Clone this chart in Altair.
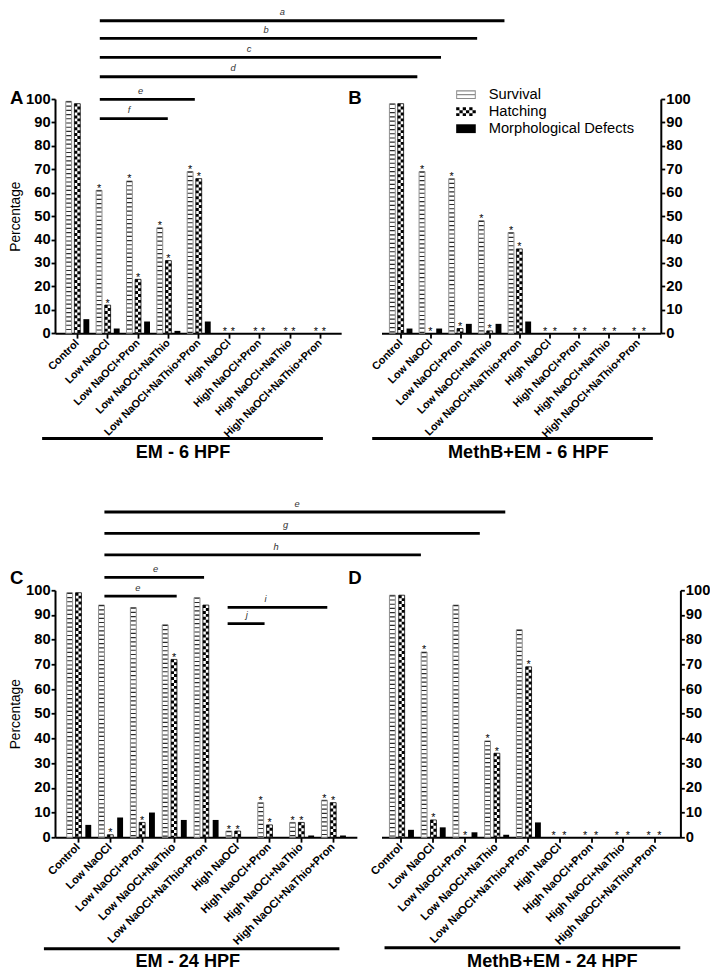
import json
import altair as alt
import pandas as pd

# ---------------- data ----------------
categories = ["Control", "Low NaOCl", "Low NaOCl+Pron", "Low NaOCl+NaThio",
              "Low NaOCl+NaThio+Pron", "High NaOCl", "High NaOCl+Pron",
              "High NaOCl+NaThio", "High NaOCl+NaThio+Pron"]
series_names = ["Survival", "Hatching", "Morphological Defects"]

em6_survival = [99, 61, 65, 45, 69, 0, 0, 0, 0]
em6_hatching = [98, 12, 23, 31, 66, 0, 0, 0, 0]
em6_defects = [6, 2, 5, 1, 5, 0, 0, 0, 0]
em6_star_survival = [0, 1, 1, 1, 1, 1, 1, 1, 1]
em6_star_hatching = [0, 1, 1, 1, 1, 1, 1, 1, 1]

mb6_survival = [98, 69, 66, 48, 43, 0, 0, 0, 0]
mb6_hatching = [98, 0, 2, 1, 36, 0, 0, 0, 0]
mb6_defects = [2, 2, 4, 4, 5, 0, 0, 0, 0]
mb6_star_survival = [0, 1, 1, 1, 1, 1, 1, 1, 1]
mb6_star_hatching = [0, 1, 1, 1, 1, 1, 1, 1, 1]

em24_survival = [99, 94, 93, 86, 97, 2.5, 14, 6, 15]
em24_hatching = [99, 1, 6, 72, 94, 2.5, 5, 6, 14]
em24_defects = [5, 8, 10, 7, 7, 0, 0, 0.7, 0.7]
em24_star_survival = [0, 0, 0, 0, 0, 1, 1, 1, 1]
em24_star_hatching = [0, 1, 1, 1, 0, 1, 1, 1, 1]

mb24_survival = [98, 75, 94, 39, 84, 0, 0, 0, 0]
mb24_hatching = [98, 7, 0, 34, 69, 0, 0, 0, 0]
mb24_defects = [3, 4, 2, 1, 6, 0, 0, 0, 0]
mb24_star_survival = [0, 1, 0, 1, 0, 1, 1, 1, 1]
mb24_star_hatching = [0, 1, 1, 1, 1, 1, 1, 1, 1]

# significance brackets (group units of the left panel, percent level)
sig6_labels = ["a", "b", "c", "d", "e", "f"]
sig6_from = [0.75, 0.75, 0.75, 0.75, 0.75, 0.75]
sig6_to = [14.08, 13.18, 11.99, 11.21, 3.88, 2.99]
sig6_level = [133.4, 125.9, 117.8, 109.5, 99.8, 91.6]
sig6_label_at = [6.76, 6.23, 5.67, 5.14, 2.09, 1.71]

sig24_labels = ["e", "g", "h", "e", "e", "i", "j"]
sig24_from = [0.83, 0.83, 0.83, 0.83, 0.83, 4.70, 4.70]
sig24_to = [13.42, 12.62, 10.77, 3.96, 3.10, 7.83, 5.86]
sig24_level = [131.7, 123.0, 114.3, 105.2, 97.6, 93.1, 86.5]
sig24_label_at = [6.88, 6.52, 6.22, 2.44, 1.88, 5.89, 5.30]

# ---------------- layout / style ----------------
S = 0.98
FONT = "Liberation Sans"

PANELS = {
    "A": dict(width=292, height=239, dom=[-0.561, 8.536], orient="left",
              offs=[-8.5, 0.3, 9.5], empty_offs=[-4, 4], title="EM - 6 HPF",
              under=[-1.15, 8.10, -45.0], tpos=[3.49, -51.3], lpos=[-39, -0.6], xlab=11),
    "B": dict(width=285, height=239, dom=[-0.478, 8.599], orient="right",
              offs=[-8.5, 0.0, 9.0], empty_offs=[-4, 6], title="MethB+EM - 6 HPF",
              under=[-0.96, 8.50, -45.0], tpos=[4.30, -51.0], lpos=[-27, -0.6], xlab=11),
    "C": dict(width=308, height=252, dom=[-0.565, 8.601], orient="left",
              offs=[-8.5, 0.5, 10.5], empty_offs=[-8.5, 0.5], title="EM - 24 HPF",
              under=[-1.07, 8.21, -45.2], tpos=[3.45, -50.4], lpos=[-39, -13], xlab=11.4),
    "D": dict(width=305, height=252, dom=[-0.448, 8.657], orient="right",
              offs=[-8.5, 1.0, 10.5], empty_offs=[-6, 5], title="MethB+EM - 24 HPF",
              under=[-0.51, 8.81, -44.8], tpos=[4.78, -50.4], lpos=[-27, -13], xlab=11.4),
}

label_expr = json.dumps(categories) + "[datum.value]"


def bars_df(surv, hatch, defects, st_s, st_h):
    rows = []
    for i, cat in enumerate(categories):
        empty = int(surv[i] == 0 and hatch[i] == 0 and defects[i] == 0)
        rows.append(dict(gi=i, category=cat, series="Survival", value=surv[i], star=st_s[i], empty=empty))
        rows.append(dict(gi=i, category=cat, series="Hatching", value=hatch[i], star=st_h[i], empty=empty))
        rows.append(dict(gi=i, category=cat, series="Morphological Defects", value=defects[i], star=0, empty=empty))
    return pd.DataFrame(rows)


def rect(x0, y0, x1, y1):
    return f"M{x0:.3f},{y0:.3f}L{x1:.3f},{y0:.3f}L{x1:.3f},{y1:.3f}L{x0:.3f},{y1:.3f}Z"


surv_path = (rect(-1, -0.45, 1, -0.33) + rect(-1, 0.33, 1, 0.45) + rect(-1, -0.45, -0.9, 0.45)
             + rect(0.9, -0.45, 1, 0.45) + rect(-1, -0.06, 1, 0.06))
hatch_path = "".join(
    rect(-1 + c / 3, -0.45 + r * 0.3, -1 + (c + 1) / 3, -0.45 + (r + 1) * 0.3)
    for r in range(3) for c in range(6) if (r + c) % 2 == 0)
morph_path = rect(-1, -0.45, 1, 0.45)


def make_panel(key, df, sig=None, legend=False):
    cfg = PANELS[key]
    W, H = cfg["width"] * S, cfg["height"] * S
    left = cfg["orient"] == "left"
    xs = alt.Scale(domain=cfg["dom"], nice=False, zero=False)
    ys = alt.Scale(domain=[0, 100], nice=False, zero=False)
    xaxis = alt.Axis(values=list(range(len(categories))), labelExpr=label_expr, labelAngle=-45,
                     labelAlign="right", labelBaseline="middle", labelFont=FONT,
                     labelFontSize=cfg["xlab"] * S, labelFontWeight="bold", labelColor="black",
                     labelPadding=3 * S, labelOverlap=False, labelFlush=False, labelLimit=400,
                     tickSize=5 * S, tickWidth=1.8, tickColor="black", domainColor="black",
                     domainWidth=2, grid=False, title=None)
    yaxis = alt.Axis(orient=cfg["orient"], values=list(range(0, 101, 10)), labelFont=FONT,
                     labelFontSize=15 * S, labelFontWeight="bold", labelColor="black",
                     labelPadding=1, labelFlush=False, labelOverlap=False, tickSize=4 * S,
                     tickWidth=1.8, tickColor="black", domainColor="black", domainWidth=2,
                     grid=False, title="Percentage" if left else None, titleFont=FONT,
                     titleFontSize=14 * S, titleFontWeight="normal", titleColor="black",
                     titlePadding=3 * S)

    def X(f):
        return alt.X(f"{f}:Q", scale=xs, axis=xaxis)

    def Y(f):
        return alt.Y(f"{f}:Q", scale=ys, axis=yaxis)

    o = cfg["offs"]
    eo = cfg["empty_offs"]
    base = alt.Chart(df)
    surv = base.transform_filter((alt.datum.series == "Survival") & (alt.datum.value > 0))
    hatch = base.transform_filter((alt.datum.series == "Hatching") & (alt.datum.value > 0))
    morph = base.transform_filter((alt.datum.series == "Morphological Defects") & (alt.datum.value > 0))

    layers = [
        surv.mark_bar(orient="vertical", size=6 * S, xOffset=o[0] * S, fill="white",
                      stroke="#8f8f8f", strokeWidth=1).encode(x=X("gi"), y=Y("value")),
        surv.mark_rule(xOffset=o[0] * S, strokeWidth=5 * S, strokeDash=[1.2 * S, 3.1 * S],
                       color="#2a2a2a").encode(x=X("gi"), y=Y("value"), y2=alt.Y2Datum(0)),
        hatch.mark_bar(orient="vertical", size=6 * S, xOffset=o[1] * S, fill="white",
                       stroke="black", strokeWidth=0.8).encode(x=X("gi"), y=Y("value")),
        hatch.mark_rule(xOffset=o[1] * S - 1.5 * S, strokeWidth=3 * S, strokeDash=[3 * S, 3 * S],
                        color="black").encode(x=X("gi"), y=Y("value"), y2=alt.Y2Datum(0)),
        hatch.mark_rule(xOffset=o[1] * S + 1.5 * S, strokeWidth=3 * S, strokeDash=[3 * S, 3 * S],
                        strokeDashOffset=3 * S, color="black").encode(x=X("gi"), y=Y("value"),
                                                                      y2=alt.Y2Datum(0)),
        morph.mark_bar(orient="vertical", size=6 * S, xOffset=o[2] * S, fill="black",
                       strokeWidth=0).encode(x=X("gi"), y=Y("value")),
    ]
    for ser, off_full, off_empty in (("Survival", o[0], eo[0]), ("Hatching", o[1], eo[1])):
        for emp, off in ((0, off_full), (1, off_empty)):
            layers.append(
                base.transform_filter((alt.datum.series == ser) & (alt.datum.star == 1)
                                      & (alt.datum.empty == emp))
                .mark_text(text="*", font=FONT, fontSize=11 * S, xOffset=off * S,
                           baseline="alphabetic", dy=1.5 * S, color="black")
                .encode(x=X("gi"), y=Y("value")))

    if sig is not None:
        layers.append(alt.Chart(sig).mark_rule(strokeWidth=2.8, color="black")
                      .encode(x=X("start"), x2="end:Q", y=Y("level")))
        layers.append(alt.Chart(sig).mark_text(font=FONT, fontSize=9.5 * S, fontStyle="italic",
                                               dy=-5.5 * S, baseline="alphabetic", color="#333")
                      .encode(x=X("label_at"), y=Y("level"), text="label:N"))

    deco = pd.DataFrame({"title": [cfg["title"]], "ux1": [cfg["under"][0]], "ux2": [cfg["under"][1]],
                         "uy": [cfg["under"][2]], "tx": [cfg["tpos"][0]], "ty": [cfg["tpos"][1]],
                         "letter": [key]})
    layers.append(alt.Chart(deco).mark_rule(strokeWidth=3, color="black")
                  .encode(x=X("ux1"), x2="ux2:Q", y=Y("uy")))
    layers.append(alt.Chart(deco).mark_text(font=FONT, fontSize=18.5 * S, fontWeight="bold",
                                            baseline="middle", align="center", color="black")
                  .encode(x=X("tx"), y=Y("ty"), text="title:N"))
    layers.append(alt.Chart(deco).mark_text(font=FONT, fontSize=19 * S, fontWeight="bold",
                                            baseline="middle", align="center", color="black")
                  .encode(x=alt.value(cfg["lpos"][0] * S), y=alt.value(cfg["lpos"][1] * S),
                          text="letter:N"))

    if legend:
        leg = alt.Legend(orient="none", legendX=76 * S, legendY=-14.6 * S, title=None,
                         symbolSize=(20 * S) ** 2, symbolStrokeWidth=0, symbolOpacity=1,
                         labelFont=FONT, labelFontSize=15 * S, labelColor="black",
                         labelOffset=13 * S, rowPadding=-1 * S, padding=0, labelLimit=400)
        ldf = pd.DataFrame({"series": series_names})
        layers.append(alt.Chart(ldf).transform_filter("false").mark_point(filled=True)
                      .encode(shape=alt.Shape("series:N", scale=alt.Scale(domain=series_names,
                                                                          range=[surv_path, hatch_path, morph_path]),
                                              legend=leg),
                              color=alt.Color("series:N", scale=alt.Scale(domain=series_names,
                                                                          range=["#8c8c8c", "black", "black"]),
                                              legend=leg)))

    return alt.layer(*layers).properties(width=W, height=H)


def sig_df(labels, start, end, level, label_at):
    return pd.DataFrame({"label": labels, "start": start, "end": end, "level": level, "label_at": label_at})


pA = make_panel("A", bars_df(em6_survival, em6_hatching, em6_defects, em6_star_survival, em6_star_hatching),
                sig=sig_df(sig6_labels, sig6_from, sig6_to, sig6_level, sig6_label_at))
pB = make_panel("B", bars_df(mb6_survival, mb6_hatching, mb6_defects, mb6_star_survival, mb6_star_hatching),
                legend=True)
pC = make_panel("C", bars_df(em24_survival, em24_hatching, em24_defects, em24_star_survival, em24_star_hatching),
                sig=sig_df(sig24_labels, sig24_from, sig24_to, sig24_level, sig24_label_at))
pD = make_panel("D", bars_df(mb24_survival, mb24_hatching, mb24_defects, mb24_star_survival, mb24_star_hatching))

chart = alt.concat(pA, pB, pC, pD, columns=2, spacing={"row": 261.5 * S, "column": 25 * S},
                   bounds="flush", align="each").resolve_scale(
    color="independent", shape="independent", x="independent", y="independent"
).properties(padding=0).configure(font=FONT).configure_view(strokeWidth=0)

chart.save("out.html", embed_options={"renderer": "svg", "actions": False})
